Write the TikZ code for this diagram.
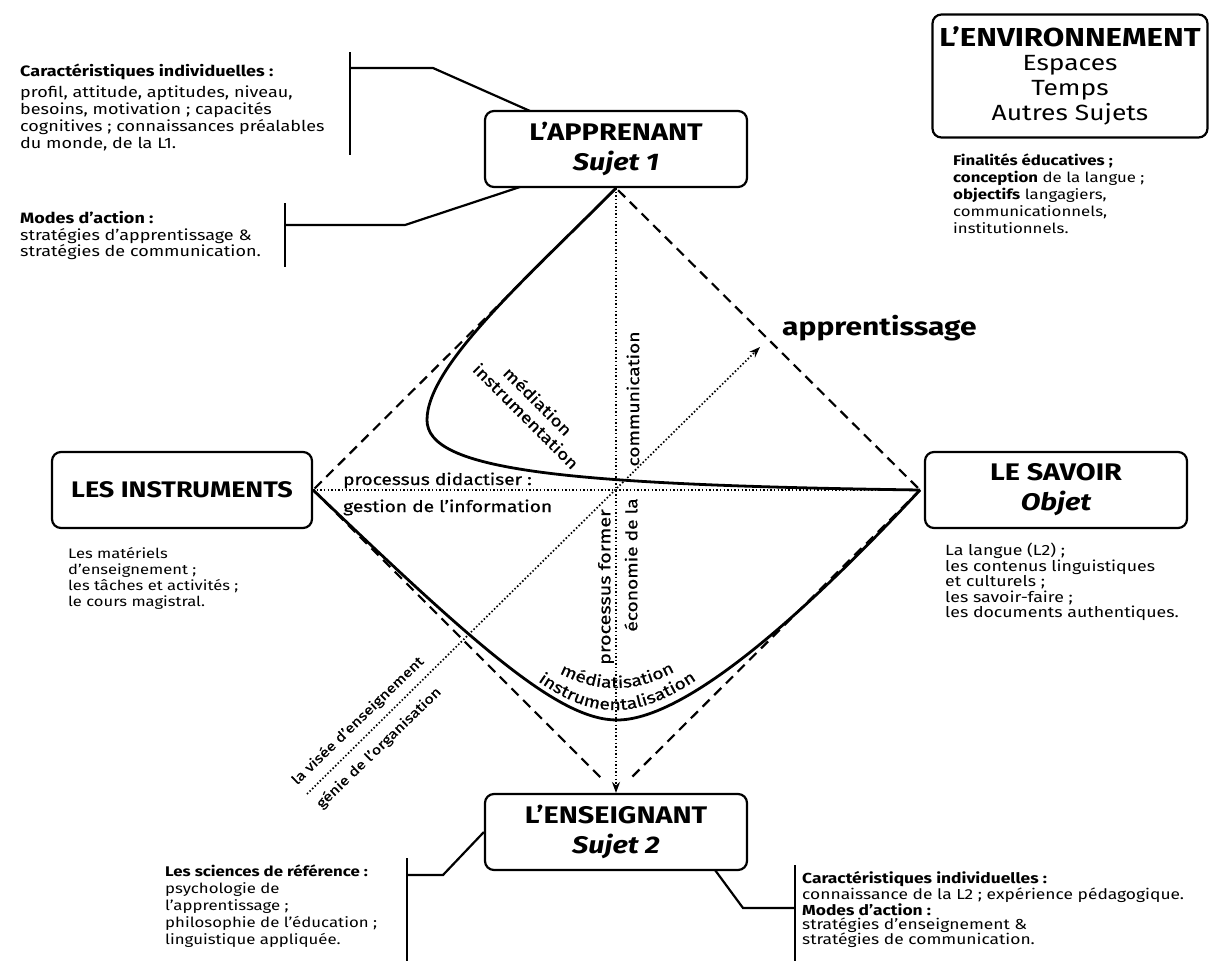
\documentclass[tikz,border=0pt]{standalone}
\usepackage{fontspec}
\setmainfont{Fira Sans}[FakeStretch=1.2]
\newfontfamily\lblfont{Fira Sans}[FakeStretch=1.2,FakeBold=0.7]
\usetikzlibrary{arrows.meta,decorations.text}
\newcommand{\fsz}[2]{\fontsize{#1}{#2}\selectfont}

\begin{document}
\begin{tikzpicture}[x=1pt,y=-1pt,
  box/.style={draw,line width=2.2pt,rounded corners=9pt,align=center,
    minimum width=262pt,minimum height=76pt,inner sep=0pt},
  boxtitle/.style={font=\fsz{24}{30}\bfseries},
  note/.style={anchor=north west,align=left,inner sep=0pt,font=\fsz{14}{17}},
  lbl/.style={inner sep=0pt,font=\lblfont\fsz{16}{16}},
  curve/.style={line width=2.8pt},
  dashln/.style={line width=2.2pt,dash pattern=on 10pt off 6.5pt},
  dotln/.style={line width=1.7pt,dash pattern=on 1.5pt off 2.1pt},
  brk/.style={line width=2.2pt},
  tip/.style={-{Stealth[length=11pt,width=8pt]}}
]
\useasboundingbox (0,0) rectangle (1210,961);
\fill[white] (0,0) rectangle (1210,961);

% ---------- the five boxes ----------
\node[box,boxtitle] (app) at (616,149)
  {L’APPRENANT\\ {\fsz{24}{30}\itshape Sujet 1}};
\node[box,boxtitle,minimum width=260pt,font=\fsz{22.5}{30}\bfseries] (ins) at (182,490) {LES INSTRUMENTS};
\node[box,boxtitle] (sav) at (1056,490)
  {LE SAVOIR\\ {\fsz{24}{30}\itshape Objet}};
\node[box,boxtitle] (ens) at (616,832)
  {L’ENSEIGNANT\\ {\fsz{24}{30}\itshape Sujet 2}};
\node[box,minimum width=275pt,minimum height=123pt,font=\fsz{22}{25}] (env) at (1070,76)
  {{\fsz{26}{25}\bfseries L’ENVIRONNEMENT}\\[-1pt]
   Espaces\\ Temps\\ Autres Sujets};

% ---------- corners of the diamond ----------
\coordinate (R) at (920,490);
\coordinate (bend) at (427,420);
\coordinate (low) at (617,720);
\coordinate (dA) at (307,794);
\coordinate (dB) at (760,347);

% dashed diamond
\draw[dashln,shorten <=3pt] (app.south) -- (ins.east);
\draw[dashln,shorten <=3pt] (app.south) -- (R);
\draw[dashln,shorten >=18pt] (ins.east) -- (ens.north);
\draw[dashln,shorten >=18pt] (R) -- (ens.north);

% dotted axes
\draw[dotln,tip] (app.south) -- (ens.north);
\draw[dotln] (ins.east) -- (R);
\draw[dotln,tip] (dA) -- (dB);

% solid curves
\draw[curve] (app.south) .. controls (530,275) and (427,365) .. (bend)
  .. controls (427,470) and (560,485) .. (R);
\draw[curve] (ins.east) .. controls (480,650) and (560,720) .. (low)
  .. controls (680,720) and (790,630) .. (R);

% ---------- labels inside the diamond ----------
\node[inner sep=0pt,anchor=base west,font=\fsz{25}{25}\bfseries] (appr) at (782,335) {apprentissage};
\node[lbl,rotate=-45] (med1) at (538,401) {médiation};
\node[lbl,rotate=-45] (ins1) at (526,416) {instrumentation};
\node[lbl,anchor=base west] (pd) at (343,485) {processus didactiser :};
\node[lbl,anchor=base west] (gi) at (343,512) {gestion de l’information};
\node[lbl,rotate=90] (com) at (633,399) {communication};
\node[lbl,rotate=90] (eco) at (631,565) {économie de la};
\node[lbl,rotate=90,font=\lblfont\fsz{16.5}{16}] (pf) at (606,587) {processus former};
\node[lbl,rotate=44,font=\lblfont\fsz{13.5}{14}] (vis) at (358,721) {la visée d’enseignement};
\node[lbl,rotate=44,font=\lblfont\fsz{13.5}{14}] (gen) at (379,748) {génie de l’organisation};

\path[decorate,decoration={text along path,text align=center,
  text={|\lblfont\fsz{16}{16}|médiatisation}}]
  (520,648) .. controls (568,684) and (595,688) .. (617,688)
  .. controls (645,688) and (674,676) .. (714,646);
\path[decorate,decoration={text along path,text align=center,
  text={|\lblfont\fsz{16}{16}|instrumentalisation}}]
  (496,648) .. controls (560,704) and (590,710) .. (617,710)
  .. controls (650,710) and (694,688) .. (738,646);

% ---------- notes and their brackets ----------
\node[note,font=\fsz{15}{17}] (n1) at (20,64)
  {\textbf{Caractéristiques individuelles :}\\[4pt]
   profil, attitude, aptitudes, niveau,\\
   besoins, motivation ; capacités\\
   cognitives ; connaissances préalables\\
   du monde, de la L1.};
\draw[brk] (350,52) -- (350,155);
\draw[brk] (350,68) -- (433,68) -- (530,111);

\node[note,font=\fsz{15}{16}] (n2) at (20,211)
  {\textbf{Modes d’action :}\\[1pt]
   stratégies d’apprentissage \&\\
   stratégies de communication.};
\draw[brk] (285,203) -- (285,267);
\draw[brk] (285,225) -- (405,225) -- (520,187);

\node[note] (n3) at (953,154)
  {\textbf{Finalités éducatives ;}\\
   \textbf{conception} de la langue ;\\
   \textbf{objectifs} langagiers,\\
   communicationnels,\\
   institutionnels.};

\node[note,font=\fsz{13.8}{16}] (n4) at (68,547)
  {Les matériels\\
   d’enseignement ;\\
   les tâches et activités ;\\
   le cours magistral.};

\node[note,font=\fsz{14.8}{15.5}] (n5) at (945,543)
  {La langue (L2) ;\\
   les contenus linguistiques\\
   et culturels ;\\
   les savoir-faire ;\\
   les documents authentiques.};

\node[note] (n6) at (165,865)
  {\textbf{Les sciences de référence :}\\
   psychologie de\\
   l’apprentissage ;\\
   philosophie de l’éducation ;\\
   linguistique appliquée.};
\draw[brk] (407,858) -- (407,961);
\draw[brk] (407,875) -- (443,875) -- (ens.west);

\node[note,font=\fsz{14.5}{14}] (n7) at (802,871)
  {\textbf{Caractéristiques individuelles :}\\
   connaissance de la L2 ; expérience pédagogique.\\
   \textbf{Modes d’action :}\\
   stratégies d’enseignement \&\\
   stratégies de communication.};
\draw[brk] (795,865) -- (795,961);
\draw[brk] (795,908) -- (743,908) -- (715,870);
\end{tikzpicture}
\end{document}
